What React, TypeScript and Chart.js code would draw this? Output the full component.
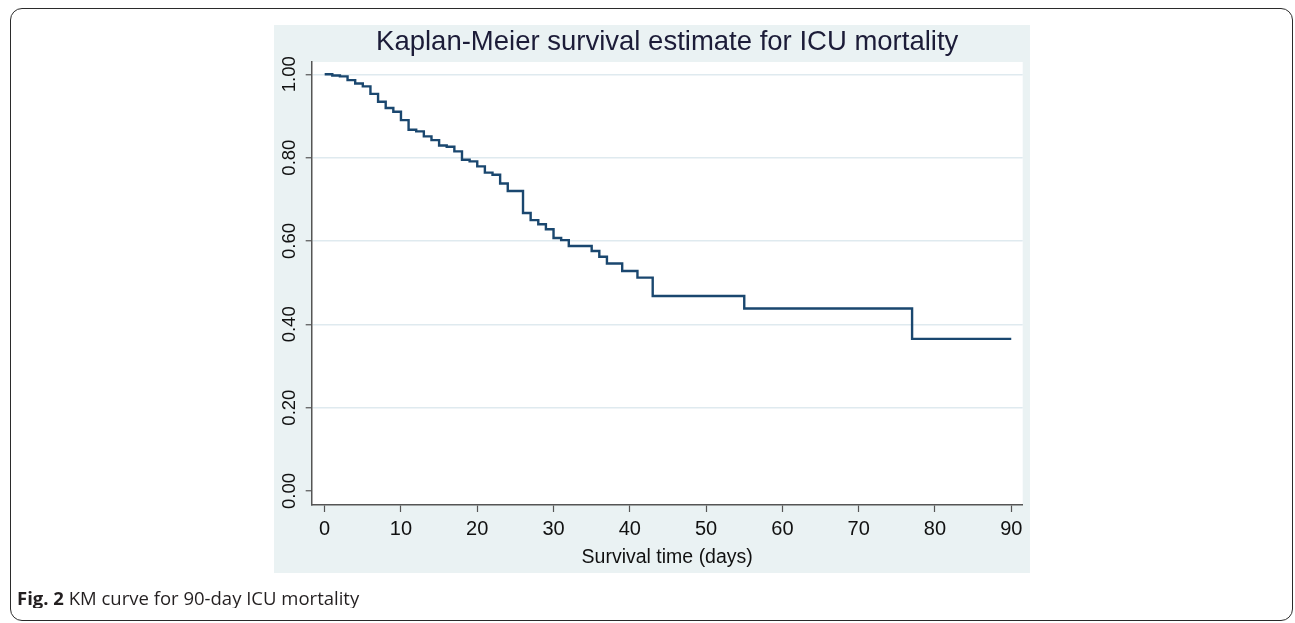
import React, { useEffect, useRef } from "react";
import { Chart, registerables } from "chart.js";

Chart.register(...registerables);

// Kaplan-Meier step data (time in days, survival probability)
const times = [0, 1, 2, 3, 4, 5, 6, 7, 8, 9, 10, 11, 12, 13, 14, 15, 16, 17, 18, 19, 20, 21, 22, 23, 24, 26, 27, 28, 29, 30, 31, 32, 35, 36, 37, 39, 41, 43, 55, 77, 90];
const survival = [1.0, 0.997, 0.995, 0.986, 0.978, 0.971, 0.953, 0.934, 0.919, 0.91, 0.89, 0.867, 0.863, 0.851, 0.842, 0.829, 0.826, 0.815, 0.795, 0.791, 0.779, 0.764, 0.759, 0.738, 0.72, 0.667, 0.65, 0.64, 0.628, 0.607, 0.602, 0.588, 0.576, 0.562, 0.546, 0.528, 0.512, 0.468, 0.438, 0.365, 0.365];
const xTicks = [0, 10, 20, 30, 40, 50, 60, 70, 80, 90];
const yTicks = [0, 0.2, 0.4, 0.6, 0.8, 1.0];

const chartTitle = "Kaplan-Meier survival estimate for ICU mortality";
const xTitle = "Survival time (days)";

const FONT = "'Liberation Sans', Arial, Helvetica, sans-serif";

const plotBg = {
  id: "plotBg",
  beforeDraw(chart: any) {
    const { ctx, chartArea } = chart;
    ctx.save();
    ctx.fillStyle = "#ffffff";
    ctx.fillRect(chartArea.left, chartArea.top, chartArea.right - chartArea.left, chartArea.bottom - chartArea.top);
    ctx.restore();
  },
};

function KMChart() {
  const ref = useRef<HTMLCanvasElement | null>(null);
  useEffect(() => {
    if (!ref.current) return;
    const chart = new Chart(ref.current, {
      type: "line",
      data: {
        datasets: [
          {
            data: times.map((t, i) => ({ x: t, y: survival[i] })),
            stepped: "before",
            borderColor: "#1a476f",
            borderWidth: 2.4,
            pointRadius: 0,
            fill: false,
          },
        ],
      },
      options: {
        animation: false,
        responsive: false,
        maintainAspectRatio: false,
        layout: { padding: { left: 0, right: 7.3, top: 0, bottom: 0 } },
        plugins: {
          legend: { display: false },
          tooltip: { enabled: false },
          title: {
            display: true,
            text: chartTitle,
            fullSize: false,
            color: "#1c1c38",
            font: { family: FONT, size: 27.5, weight: "normal", lineHeight: 1.2 },
            padding: { top: 1, bottom: 3 },
          },
        },
        scales: {
          x: {
            type: "linear",
            min: -1.7,
            max: 91.5,
            afterBuildTicks: (scale: any) => {
              scale.ticks = xTicks.map((v) => ({ value: v }));
            },
            afterFit: (scale: any) => {
              scale.height = 68;
            },
            ticks: {
              color: "#111111",
              font: { family: FONT, size: 20 },
              padding: 5,
              maxRotation: 0,
              autoSkip: false,
              callback: (v: any) => String(v),
            },
            grid: {
              drawOnChartArea: false,
              tickLength: 7,
              tickColor: "#555555",
              tickWidth: 1.2,
            },
            border: { color: "#555555", width: 1.5 },
            title: {
              display: true,
              text: xTitle,
              color: "#111111",
              font: { family: FONT, size: 19.5 },
              padding: { top: 0, bottom: 4 },
            },
          },
          y: {
            type: "linear",
            min: -0.0336,
            max: 1.0295,
            afterBuildTicks: (scale: any) => {
              scale.ticks = yTicks.map((v) => ({ value: v }));
            },
            afterFit: (scale: any) => {
              scale.width = 37.7;
            },
            ticks: {
              color: "#111111",
              font: { family: FONT, size: 18.5 },
              minRotation: 90,
              maxRotation: 90,
              crossAlign: "center",
              padding: -2,
              autoSkip: false,
              callback: (v: any) => Number(v).toFixed(2),
            },
            grid: {
              color: (c: any) => (c.tick && c.tick.value === 0 ? "rgba(0,0,0,0)" : "#dfeaef"),
              lineWidth: 1.5,
              tickLength: 6,
              tickColor: "#555555",
              tickWidth: 1.2,
            },
            border: { color: "#555555", width: 1.5 },
          },
        },
      },
      plugins: [plotBg],
    } as any);
    return () => chart.destroy();
  }, []);
  return <canvas ref={ref} width={756} height={548} style={{ display: "block", width: 756, height: 548 }} />;
}

export default function App() {
  return (
    <div style={{ position: "relative", width: 1279, height: 600 }}>
      <div
        style={{
          position: "fixed",
          left: 10,
          top: 8,
          width: 1283,
          height: 613,
          boxSizing: "border-box",
          border: "1.5px solid #2b2b2b",
          borderRadius: 12,
          pointerEvents: "none",
        }}
      />
      <div style={{ position: "absolute", left: 266, top: 17, width: 756, height: 548, background: "#eaf2f3" }}>
        <KMChart />
      </div>
      <div
        style={{
          position: "absolute",
          left: 9,
          top: 578,
          fontFamily: "'Open Sans', 'Noto Sans', sans-serif",
          fontSize: 18.5,
          color: "#231f20",
          whiteSpace: "nowrap",
          lineHeight: "24px",
        }}
      >
        <b>Fig. 2</b> KM curve for 90-day ICU mortality
      </div>
    </div>
  );
}
